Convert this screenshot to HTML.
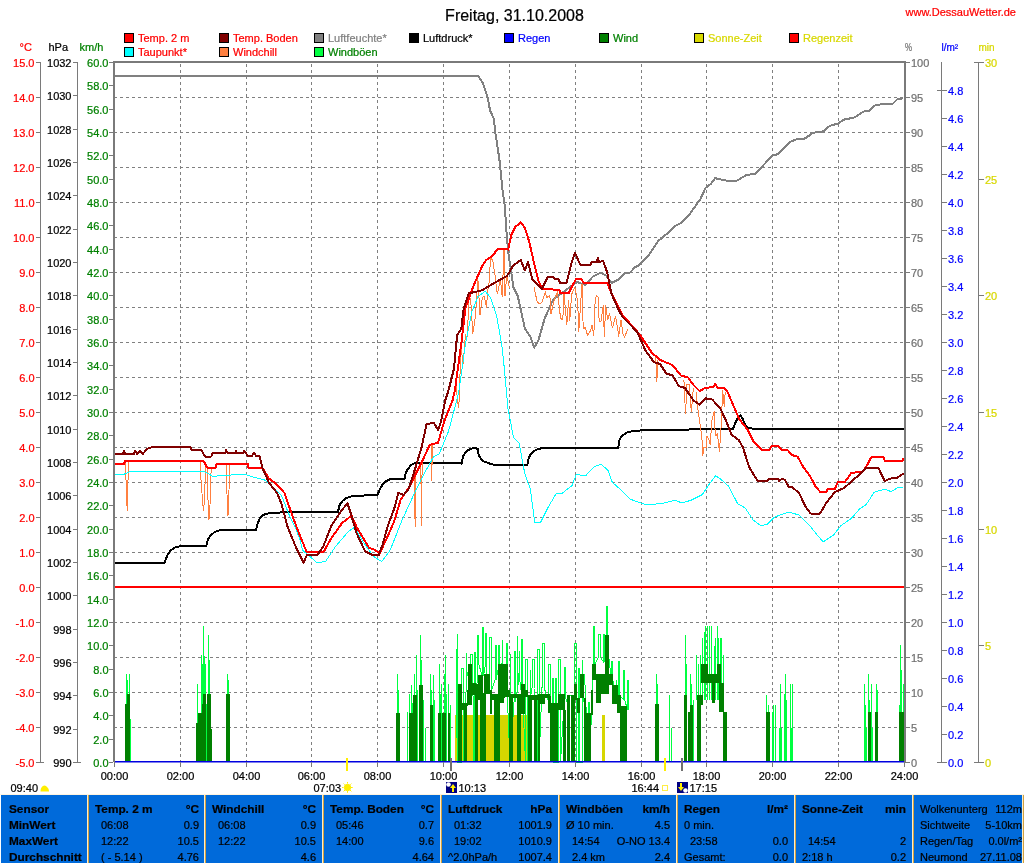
<!DOCTYPE html>
<html lang="de"><head><meta charset="utf-8"><title>Freitag, 31.10.2008 - DessauWetter</title>
<style>html,body{margin:0;padding:0;background:#fff}body{width:1024px;height:863px;overflow:hidden}svg text{white-space:pre}</style></head>
<body>
<svg width="1024" height="863" viewBox="0 0 1024 863" style="display:block;font-family:'Liberation Sans',Arial,sans-serif;font-size:11px">
<rect width="1024" height="863" fill="#fff"/>
<g stroke="#808080" stroke-width="1" stroke-dasharray="3 3" shape-rendering="crispEdges" fill="none">
<line x1="114" y1="97.5" x2="903" y2="97.5"/>
<line x1="114" y1="132.5" x2="903" y2="132.5"/>
<line x1="114" y1="167.5" x2="903" y2="167.5"/>
<line x1="114" y1="202.5" x2="903" y2="202.5"/>
<line x1="114" y1="237.5" x2="903" y2="237.5"/>
<line x1="114" y1="272.5" x2="903" y2="272.5"/>
<line x1="114" y1="307.5" x2="903" y2="307.5"/>
<line x1="114" y1="342.5" x2="903" y2="342.5"/>
<line x1="114" y1="377.5" x2="903" y2="377.5"/>
<line x1="114" y1="412.5" x2="903" y2="412.5"/>
<line x1="114" y1="447.5" x2="903" y2="447.5"/>
<line x1="114" y1="482.5" x2="903" y2="482.5"/>
<line x1="114" y1="517.5" x2="903" y2="517.5"/>
<line x1="114" y1="552.5" x2="903" y2="552.5"/>
<line x1="114" y1="587.5" x2="903" y2="587.5"/>
<line x1="114" y1="622.5" x2="903" y2="622.5"/>
<line x1="114" y1="657.5" x2="903" y2="657.5"/>
<line x1="114" y1="692.5" x2="903" y2="692.5"/>
<line x1="114" y1="727.5" x2="903" y2="727.5"/>
<line x1="180.5" y1="64" x2="180.5" y2="762"/>
<line x1="246.5" y1="64" x2="246.5" y2="762"/>
<line x1="311.5" y1="64" x2="311.5" y2="762"/>
<line x1="377.5" y1="64" x2="377.5" y2="762"/>
<line x1="443.5" y1="64" x2="443.5" y2="762"/>
<line x1="509.5" y1="64" x2="509.5" y2="762"/>
<line x1="575.5" y1="64" x2="575.5" y2="762"/>
<line x1="641.5" y1="64" x2="641.5" y2="762"/>
<line x1="706.5" y1="64" x2="706.5" y2="762"/>
<line x1="772.5" y1="64" x2="772.5" y2="762"/>
<line x1="838.5" y1="64" x2="838.5" y2="762"/>
</g>
<g fill="#d6d600" shape-rendering="crispEdges">
<rect x="455" y="715" width="73" height="47"/>
<rect x="602" y="715" width="3" height="47"/>
</g>
<g stroke="#00ff40" stroke-width="1" shape-rendering="crispEdges">
<line x1="126.5" y1="674" x2="126.5" y2="762"/>
<line x1="127.5" y1="680" x2="127.5" y2="762"/>
<line x1="129.5" y1="674" x2="129.5" y2="762"/>
<line x1="130.5" y1="719" x2="130.5" y2="762"/>
<line x1="197.5" y1="684" x2="197.5" y2="762"/>
<line x1="201.5" y1="655" x2="201.5" y2="762"/>
<line x1="202.5" y1="664" x2="202.5" y2="762"/>
<line x1="203.5" y1="626" x2="203.5" y2="762"/>
<line x1="204.5" y1="656" x2="204.5" y2="762"/>
<line x1="205.5" y1="664" x2="205.5" y2="762"/>
<line x1="208.5" y1="635" x2="208.5" y2="762"/>
<line x1="209.5" y1="660" x2="209.5" y2="762"/>
<line x1="206.5" y1="704" x2="206.5" y2="762"/>
<line x1="227.5" y1="674" x2="227.5" y2="762"/>
<line x1="228.5" y1="680" x2="228.5" y2="762"/>
<line x1="397.5" y1="674" x2="397.5" y2="762"/>
<line x1="398.5" y1="690" x2="398.5" y2="762"/>
<line x1="407.5" y1="712" x2="407.5" y2="762"/>
<line x1="409.5" y1="694" x2="409.5" y2="762"/>
<line x1="411.5" y1="685" x2="411.5" y2="762"/>
<line x1="412.5" y1="703" x2="412.5" y2="762"/>
<line x1="414.5" y1="674" x2="414.5" y2="762"/>
<line x1="416.5" y1="655" x2="416.5" y2="762"/>
<line x1="417.5" y1="690" x2="417.5" y2="762"/>
<line x1="420.5" y1="635" x2="420.5" y2="762"/>
<line x1="421.5" y1="660" x2="421.5" y2="762"/>
<line x1="423.5" y1="700" x2="423.5" y2="762"/>
<line x1="425.5" y1="728" x2="425.5" y2="762"/>
<line x1="430.5" y1="674" x2="430.5" y2="762"/>
<line x1="431.5" y1="690" x2="431.5" y2="762"/>
<line x1="433.5" y1="675" x2="433.5" y2="762"/>
<line x1="434.5" y1="700" x2="434.5" y2="762"/>
<line x1="439.5" y1="664" x2="439.5" y2="762"/>
<line x1="440.5" y1="694" x2="440.5" y2="762"/>
<line x1="441.5" y1="684" x2="441.5" y2="762"/>
<line x1="444.5" y1="674" x2="444.5" y2="762"/>
<line x1="445.5" y1="655" x2="445.5" y2="762"/>
<line x1="446.5" y1="694" x2="446.5" y2="762"/>
<line x1="448.5" y1="684" x2="448.5" y2="762"/>
<line x1="450.5" y1="705" x2="450.5" y2="762"/>
<line x1="656.5" y1="674" x2="656.5" y2="762"/>
<line x1="657.5" y1="684" x2="657.5" y2="762"/>
<line x1="669.5" y1="695" x2="669.5" y2="762"/>
<line x1="671.5" y1="728" x2="671.5" y2="762"/>
<line x1="685.5" y1="635" x2="685.5" y2="762"/>
<line x1="686.5" y1="664" x2="686.5" y2="762"/>
<line x1="690.5" y1="674" x2="690.5" y2="762"/>
<line x1="691.5" y1="684" x2="691.5" y2="762"/>
<line x1="693.5" y1="700" x2="693.5" y2="762"/>
<line x1="766.5" y1="695" x2="766.5" y2="762"/>
<line x1="768.5" y1="705" x2="768.5" y2="762"/>
<line x1="772.5" y1="712" x2="772.5" y2="762"/>
<line x1="773.5" y1="705" x2="773.5" y2="762"/>
<line x1="775.5" y1="705" x2="775.5" y2="762"/>
<line x1="779.5" y1="728" x2="779.5" y2="762"/>
<line x1="780.5" y1="684" x2="780.5" y2="762"/>
<line x1="781.5" y1="728" x2="781.5" y2="762"/>
<line x1="784.5" y1="694" x2="784.5" y2="762"/>
<line x1="785.5" y1="674" x2="785.5" y2="762"/>
<line x1="786.5" y1="700" x2="786.5" y2="762"/>
<line x1="790.5" y1="684" x2="790.5" y2="762"/>
<line x1="791.5" y1="728" x2="791.5" y2="762"/>
<line x1="792.5" y1="684" x2="792.5" y2="762"/>
<line x1="864.5" y1="684" x2="864.5" y2="762"/>
<line x1="865.5" y1="705" x2="865.5" y2="762"/>
<line x1="866.5" y1="728" x2="866.5" y2="762"/>
<line x1="868.5" y1="674" x2="868.5" y2="762"/>
<line x1="869.5" y1="700" x2="869.5" y2="762"/>
<line x1="871.5" y1="684" x2="871.5" y2="762"/>
<line x1="872.5" y1="728" x2="872.5" y2="762"/>
<line x1="876.5" y1="684" x2="876.5" y2="762"/>
<line x1="877.5" y1="690" x2="877.5" y2="762"/>
<line x1="899.5" y1="705" x2="899.5" y2="762"/>
<line x1="900.5" y1="645" x2="900.5" y2="762"/>
<line x1="901.5" y1="670" x2="901.5" y2="762"/>
<line x1="903.5" y1="684" x2="903.5" y2="762"/>
<line x1="696.5" y1="655" x2="696.5" y2="700"/>
<line x1="698.5" y1="664" x2="698.5" y2="700"/>
<line x1="700.5" y1="655" x2="700.5" y2="700"/>
<line x1="702.5" y1="638" x2="702.5" y2="700"/>
<line x1="704.5" y1="632" x2="704.5" y2="700"/>
<line x1="705.5" y1="626" x2="705.5" y2="700"/>
<line x1="707.5" y1="626" x2="707.5" y2="700"/>
<line x1="709.5" y1="626" x2="709.5" y2="700"/>
<line x1="711.5" y1="626" x2="711.5" y2="700"/>
<line x1="714.5" y1="646" x2="714.5" y2="700"/>
<line x1="715.5" y1="638" x2="715.5" y2="700"/>
<line x1="717.5" y1="626" x2="717.5" y2="700"/>
<line x1="718.5" y1="638" x2="718.5" y2="700"/>
<line x1="720.5" y1="638" x2="720.5" y2="700"/>
<line x1="721.5" y1="638" x2="721.5" y2="700"/>
<line x1="723.5" y1="655" x2="723.5" y2="700"/>
</g>
<polyline points="456.0,689.0 456.0,649.0 456.0,649.0 456.0,689.0 457.5,762.0 457.5,634.0 457.5,634.0 457.5,762.0 461.5,762.0 461.5,668.7 463.5,668.7 463.5,762.0 466.5,678.1 466.5,653.1 466.5,653.1 466.5,678.1 470.5,662.0 470.5,654.0 472.5,654.0 472.5,662.0 474.0,762.0 474.0,652.6 475.0,652.6 475.0,762.0 477.5,663.8 477.5,635.8 478.5,635.8 478.5,663.8 482.5,676.4 482.5,627.4 483.5,627.4 483.5,676.4 485.0,666.7 485.0,633.7 486.0,633.7 486.0,666.7 489.0,692.3 489.0,637.3 491.0,637.3 491.0,692.3 495.0,679.7 495.0,645.7 496.0,645.7 496.0,679.7 498.0,670.4 498.0,645.4 499.0,645.4 499.0,670.4 502.0,662.7 502.0,639.7 502.0,639.7 502.0,662.7 506.0,688.4 506.0,643.4 507.0,643.4 507.0,688.4 510.0,762.0 510.0,653.7 510.0,653.7 510.0,762.0 514.0,701.6 514.0,651.6 515.0,651.6 515.0,701.6 517.5,691.2 517.5,636.2 517.5,636.2 517.5,691.2 519.0,673.5 519.0,650.5 519.0,650.5 519.0,673.5 521.5,694.3 521.5,639.3 522.5,639.3 522.5,694.3 525.5,762.0 525.5,659.2 527.5,659.2 527.5,762.0 530.0,699.5 530.0,669.5 530.0,669.5 530.0,699.5 532.0,688.4 532.0,659.4 534.0,659.4 534.0,688.4 537.0,762.0 537.0,649.1 539.0,649.1 539.0,762.0 542.0,687.5 542.0,643.5 544.0,643.5 544.0,687.5 548.0,699.7 548.0,664.7 550.0,664.7 550.0,699.7 552.0,762.0 552.0,678.0 553.0,678.0 553.0,762.0 555.0,762.0 555.0,678.0 556.0,678.0 556.0,762.0 558.5,762.0 558.5,659.0 560.5,659.0 560.5,762.0 564.5,697.0 564.5,667.0 565.5,667.0 565.5,697.0 569.5,710.9 569.5,695.9 571.5,695.9 571.5,710.9 574.5,762.0 574.5,643.0 576.5,643.0 576.5,762.0 578.0,762.0 578.0,668.7 579.0,668.7 579.0,762.0 582.0,762.0 582.0,660.2 582.0,660.2 582.0,762.0 583.5,673.6 583.5,675.6 584.5,675.6 584.5,673.6 588.5,762.0 588.5,702.0 589.5,702.0 589.5,762.0 593.5,665.2 593.5,626.0 594.5,626.0 594.5,665.2 598.5,657.3 598.5,634.3 600.5,634.3 600.5,657.3 603.5,662.0 603.5,634.0 604.5,634.0 604.5,662.0 606.0,641.5 606.0,606.0 607.0,606.0 607.0,641.5 611.0,676.4 611.0,661.4 612.0,661.4 612.0,676.4 616.0,694.6 616.0,679.6 616.0,679.6 616.0,694.6 618.5,696.3 618.5,661.3 619.5,661.3 619.5,696.3 623.5,699.0 623.5,670.0 624.5,670.0 624.5,699.0 627.5,710.0 627.5,680.0 628.5,680.0 628.5,710.0" fill="none" stroke="#00ff40" stroke-width="1" shape-rendering="crispEdges"/>
<g fill="#008000" shape-rendering="crispEdges">
<rect x="125.0" y="704.0" width="1.5" height="58.0"/>
<rect x="126.5" y="694.0" width="3.0" height="68.0"/>
<rect x="196.0" y="723.0" width="2.0" height="39.0"/>
<rect x="198.0" y="713.0" width="3.5" height="49.0"/>
<rect x="201.5" y="704.0" width="1.5" height="58.0"/>
<rect x="203.0" y="694.0" width="2.5" height="68.0"/>
<rect x="207.0" y="694.0" width="3.7" height="68.0"/>
<rect x="210.7" y="729.0" width="1.3" height="33.0"/>
<rect x="226.0" y="694.0" width="4.0" height="68.0"/>
<rect x="396.0" y="713.0" width="3.6" height="49.0"/>
<rect x="408.6" y="713.0" width="3.9" height="49.0"/>
<rect x="413.0" y="694.5" width="4.4" height="67.5"/>
<rect x="419.0" y="685.0" width="3.6" height="77.0"/>
<rect x="429.6" y="704.5" width="3.6" height="57.5"/>
<rect x="437.5" y="713.0" width="3.5" height="49.0"/>
<rect x="442.4" y="713.0" width="4.0" height="49.0"/>
<rect x="447.6" y="713.0" width="2.8" height="49.0"/>
<rect x="655.4" y="703.5" width="3.2" height="58.5"/>
<rect x="683.5" y="694.6" width="3.5" height="67.4"/>
<rect x="687.9" y="712.0" width="2.1" height="50.0"/>
<rect x="690.0" y="705.0" width="2.9" height="57.0"/>
<rect x="696.7" y="712.0" width="1.8" height="50.0"/>
<rect x="698.5" y="694.6" width="2.3" height="67.4"/>
<rect x="723.0" y="712.0" width="4.4" height="50.0"/>
<rect x="765.5" y="712.0" width="4.1" height="50.0"/>
<rect x="867.8" y="712.0" width="3.2" height="50.0"/>
<rect x="875.4" y="712.0" width="2.9" height="50.0"/>
<rect x="899.4" y="712.0" width="4.1" height="50.0"/>
<rect x="457.8" y="684.0" width="4.0" height="78.0"/>
<rect x="461.8" y="703.0" width="1.8" height="7.0"/>
<rect x="463.6" y="703.0" width="2.9" height="59.0"/>
<rect x="466.5" y="690.0" width="1.5" height="16.0"/>
<rect x="467.9" y="664.0" width="4.3" height="41.0"/>
<rect x="472.2" y="683.0" width="3.5" height="12.0"/>
<rect x="474.8" y="684.0" width="2.7" height="78.0"/>
<rect x="477.5" y="690.0" width="1.5" height="10.0"/>
<rect x="478.3" y="675.0" width="3.5" height="25.0"/>
<rect x="480.0" y="675.0" width="2.7" height="87.0"/>
<rect x="482.7" y="693.0" width="3.4" height="69.0"/>
<rect x="484.4" y="674.0" width="5.2" height="20.0"/>
<rect x="489.6" y="690.0" width="1.9" height="24.0"/>
<rect x="491.5" y="694.0" width="2.1" height="6.0"/>
<rect x="493.6" y="694.0" width="5.9" height="68.0"/>
<rect x="497.5" y="664.0" width="3.5" height="36.0"/>
<rect x="500.0" y="664.0" width="3.5" height="39.0"/>
<rect x="503.5" y="690.0" width="1.5" height="8.0"/>
<rect x="504.4" y="664.0" width="3.8" height="33.0"/>
<rect x="508.2" y="690.0" width="1.3" height="7.0"/>
<rect x="509.2" y="694.0" width="3.9" height="68.0"/>
<rect x="513.1" y="694.0" width="4.3" height="4.0"/>
<rect x="517.4" y="694.0" width="3.5" height="68.0"/>
<rect x="520.9" y="684.0" width="4.3" height="30.0"/>
<rect x="525.2" y="690.0" width="2.8" height="7.0"/>
<rect x="527.8" y="695.0" width="4.4" height="67.0"/>
<rect x="532.2" y="695.0" width="1.8" height="5.0"/>
<rect x="533.9" y="695.0" width="2.6" height="67.0"/>
<rect x="536.5" y="695.0" width="1.8" height="5.0"/>
<rect x="538.3" y="694.0" width="1.7" height="68.0"/>
<rect x="540.0" y="693.5" width="5.0" height="10.5"/>
<rect x="545.0" y="693.5" width="4.8" height="4.5"/>
<rect x="548.0" y="696.0" width="2.8" height="17.0"/>
<rect x="549.8" y="703.0" width="7.9" height="59.0"/>
<rect x="557.7" y="693.5" width="6.9" height="16.5"/>
<rect x="563.2" y="710.0" width="2.8" height="52.0"/>
<rect x="566.6" y="694.5" width="2.9" height="67.5"/>
<rect x="570.5" y="694.5" width="4.9" height="67.5"/>
<rect x="573.5" y="684.0" width="3.0" height="16.0"/>
<rect x="576.5" y="698.0" width="3.5" height="15.0"/>
<rect x="580.4" y="674.0" width="3.9" height="24.0"/>
<rect x="584.3" y="713.0" width="6.5" height="49.0"/>
<rect x="583.5" y="698.0" width="2.0" height="17.0"/>
<rect x="590.8" y="690.0" width="2.2" height="25.0"/>
<rect x="592.2" y="664.0" width="3.9" height="16.0"/>
<rect x="596.1" y="674.0" width="4.9" height="29.0"/>
<rect x="601.0" y="674.0" width="4.0" height="19.5"/>
<rect x="605.0" y="635.4" width="3.9" height="58.1"/>
<rect x="608.9" y="674.0" width="3.9" height="11.0"/>
<rect x="612.0" y="685.0" width="5.8" height="19.0"/>
<rect x="616.8" y="694.5" width="3.9" height="18.5"/>
<rect x="619.7" y="706.0" width="6.9" height="56.0"/>
<rect x="624.0" y="713.0" width="3.0" height="49.0"/>
<rect x="696.7" y="694.6" width="4.1" height="67.4"/>
<rect x="698.8" y="694.6" width="3.7" height="10.4"/>
<rect x="700.8" y="664.0" width="6.7" height="19.0"/>
<rect x="707.5" y="674.0" width="4.5" height="9.0"/>
<rect x="712.0" y="674.0" width="3.4" height="29.4"/>
<rect x="715.4" y="674.0" width="2.9" height="9.0"/>
<rect x="717.2" y="664.0" width="4.1" height="19.0"/>
<rect x="719.2" y="683.0" width="4.4" height="29.0"/>
</g>
<polyline points="114.0,75.9 478.2,75.9 482.8,83.2 488.0,98.8 490.0,110.3 493.8,118.6 495.3,132.2 499.4,159.3 502.6,190.6 504.7,205.2 506.7,234.4 508.2,251.7 511.3,272.6 513.4,287.2 517.6,295.5 521.8,314.3 524.9,328.9 530.1,336.2 534.3,347.6 538.4,340.3 544.7,318.4 553.0,299.7 561.4,293.4 569.7,287.2 577.0,282.0 585.4,285.1 592.7,276.7 601.0,272.6 606.2,275.7 611.4,283.0 617.7,279.9 625.0,272.6 630.3,272.5 634.6,267.5 639.0,265.2 649.3,254.3 658.1,241.1 666.9,233.8 674.2,226.5 681.5,222.7 690.3,213.3 700.6,198.7 705.6,187.8 710.8,184.0 715.2,178.2 725.5,180.5 737.2,180.5 746.0,175.2 754.8,173.8 763.6,165.0 772.4,155.6 778.2,154.1 789.9,142.1 795.8,139.5 804.6,138.6 813.4,132.7 823.6,131.3 829.5,126.0 838.3,123.4 844.1,119.6 854.4,117.5 863.2,111.6 869.0,110.8 874.9,105.5 882.2,104.0 892.5,104.0 896.9,99.6 902.7,98.2" fill="none" stroke="#808080" stroke-width="2" stroke-linejoin="round" shape-rendering="crispEdges"/>
<polyline points="114.0,563.0 164.5,563.0 167.0,556.0 170.0,551.0 174.9,547.6 179.0,546.4 206.2,546.4 207.0,542.0 208.3,538.9 211.0,535.0 214.5,532.2 220.8,529.7 256.2,529.7 257.5,524.0 259.4,519.0 262.0,516.0 264.6,514.3 270.8,512.8 295.9,512.0 338.0,512.0 339.0,507.0 340.0,504.3 343.0,500.5 346.3,498.0 352.6,496.0 377.6,494.9 379.0,491.0 380.7,487.6 383.0,484.0 385.9,481.3 390.1,479.2 404.7,478.6 405.5,474.0 406.8,470.9 409.0,467.5 411.0,465.1 415.1,463.0 456.8,462.6 462.0,463.6 462.5,459.0 463.1,456.3 465.5,452.5 468.3,450.1 472.0,448.5 475.6,448.0 477.7,449.0 478.2,452.0 478.7,455.3 481.0,459.0 484.0,461.5 489.8,463.6 495.0,465.0 527.4,465.0 527.8,462.0 528.1,459.8 530.0,455.5 532.6,452.0 537.0,449.5 541.6,448.2 618.4,447.7 618.7,444.0 619.4,440.2 621.5,436.5 624.6,433.9 628.0,432.0 632.9,431.2 647.5,429.7 733.0,429.3 734.0,426.0 735.1,423.5 737.5,418.5 740.3,415.5 742.4,418.3 745.6,425.6 748.0,427.5 751.8,428.5 904.0,428.5" fill="none" stroke="#000" stroke-width="2" stroke-linejoin="round" shape-rendering="crispEdges"/>
<polyline points="125.5,462.0 126.0,480.0 127.2,511.0 127.8,485.0 128.8,462.0" fill="none" stroke="#ff8040" stroke-width="1" stroke-linejoin="round" shape-rendering="crispEdges"/>
<polyline points="200.4,462.0 201.0,480.0 202.5,500.0 203.5,511.0 204.5,500.0 205.6,466.0 207.6,468.0 208.0,500.0 209.0,519.7 210.0,505.0 210.5,480.0 211.4,468.0" fill="none" stroke="#ff8040" stroke-width="1" stroke-linejoin="round" shape-rendering="crispEdges"/>
<polyline points="226.4,465.0 226.8,490.0 228.0,515.5 229.0,490.0 229.8,465.0" fill="none" stroke="#ff8040" stroke-width="1" stroke-linejoin="round" shape-rendering="crispEdges"/>
<polyline points="414.5,472.0 415.1,527.2 416.0,470.0" fill="none" stroke="#ff8040" stroke-width="1" stroke-linejoin="round" shape-rendering="crispEdges"/>
<polyline points="420.8,462.0 421.4,525.1 422.2,460.0" fill="none" stroke="#ff8040" stroke-width="1" stroke-linejoin="round" shape-rendering="crispEdges"/>
<polyline points="431.3,444.0 431.8,480.3 432.3,444.0" fill="none" stroke="#ff8040" stroke-width="1" stroke-linejoin="round" shape-rendering="crispEdges"/>
<polyline points="655.4,356.0 655.9,360.0 656.9,381.8 657.5,360.0" fill="none" stroke="#ff8040" stroke-width="1" stroke-linejoin="round" shape-rendering="crispEdges"/>
<polyline points="683.5,380.0 684.0,382.0 685.5,414.0 687.0,384.0 689.0,384.0 691.3,412.0 693.4,388.0" fill="none" stroke="#ff8040" stroke-width="1" stroke-linejoin="round" shape-rendering="crispEdges"/>
<polyline points="696.0,392.0 697.6,406.8 699.5,420.0 701.8,436.0 702.8,455.8 704.0,447.0 706.0,448.0 707.0,436.0 709.0,440.0 710.2,444.5 712.0,420.0 714.3,411.0 715.3,436.0 717.4,434.0 719.5,451.6 721.5,420.0 722.6,390.0 724.3,407.0 725.2,392.0" fill="none" stroke="#ff8040" stroke-width="1" stroke-linejoin="round" shape-rendering="crispEdges"/>
<polyline points="456.0,385.4 457.8,403.3 458.8,407.3 461.0,347.1 463.2,363.7 465.4,334.8 466.8,340.0 467.8,325.3 468.8,299.1 470.6,298.2 472.8,333.8 475.0,319.4 476.4,303.7 477.8,277.6 480.0,315.3 482.2,298.2 484.0,296.0 485.4,301.1 486.4,307.7 487.8,289.5 488.8,285.9 490.6,257.6 492.8,260.4 495.0,275.1 497.2,294.1 498.2,290.4 500.4,279.2 502.2,296.6 504.0,249.2 505.0,295.9 506.8,275.2 507.8,280.3 509.6,288.3" fill="none" stroke="#ff8040" stroke-width="1" stroke-linejoin="round" shape-rendering="crispEdges"/>
<polyline points="534.0,286.9 537.2,302.1 540.0,304.1 542.2,302.0 545.4,291.8 546.6,298.0 549.8,295.1 551.0,313.8 554.2,300.3 557.4,291.8 560.6,318.3 562.8,319.9 564.0,293.8 566.8,324.8 568.6,300.1 569.8,320.4 571.6,294.3 574.8,287.5 577.6,300.5 578.8,331.4 582.0,283.7 583.2,328.3 585.4,327.8 587.6,335.5 590.8,330.2 592.0,325.5 593.8,335.6 595.0,303.7 596.2,295.6 598.0,296.4 599.2,321.9 601.0,321.2 603.2,305.7 604.4,336.4 605.6,305.8 607.8,319.6 609.6,313.4 612.4,328.0 615.6,316.4 618.8,336.1 621.0,319.7 622.8,333.3 624.6,337.1 627.8,329.1" fill="none" stroke="#ff8040" stroke-width="1" stroke-linejoin="round" shape-rendering="crispEdges"/>
<polyline points="114.0,474.6 123.0,474.6 131.0,471.3 204.0,471.3 213.5,476.7 220.8,475.3 245.8,474.6 254.2,477.4 264.6,480.0 281.3,495.0 290.0,517.0 296.0,529.0 300.0,540.0 302.5,550.2 317.1,562.7 325.5,561.6 335.9,546.0 348.4,531.4 354.6,527.2 363.0,541.8 373.4,556.4 381.8,561.6 390.1,550.2 402.6,518.9 415.1,491.8 425.6,470.9 433.9,456.3 439.1,454.2 448.5,431.3 456.8,400.0 459.2,389.4 465.5,343.5 471.7,312.2 478.0,296.5 485.3,291.3 490.5,297.6 496.7,316.4 501.9,345.6 504.5,370.0 507.9,408.2 513.5,437.4 519.1,443.0 524.7,473.3 530.3,489.0 534.8,522.7 540.4,522.7 548.3,507.0 556.2,493.5 561.8,493.5 571.9,485.7 576.4,474.4 585.4,476.0 594.3,466.6 601.1,464.3 607.8,470.0 612.3,482.3 621.3,490.2 630.3,499.2 639.3,502.5 646.0,504.8 661.7,503.6 675.2,500.3 681.9,503.0 690.9,500.3 702.2,494.7 708.9,484.6 715.6,475.6 720.0,478.6 728.3,485.9 737.7,503.7 745.0,507.8 753.4,520.3 760.7,525.6 766.9,524.5 774.2,517.2 788.8,512.0 799.2,515.1 809.7,525.6 818.0,536.0 823.2,541.8 833.7,534.9 841.0,525.6 851.4,518.3 859.7,508.9 866.0,504.7 874.3,492.2 884.8,489.1 891.0,491.6 897.3,488.0 903.5,487.0" fill="none" stroke="#00ffff" stroke-width="1" stroke-linejoin="round" shape-rendering="crispEdges"/>
<polyline points="114.0,464.2 123.8,464.2 125.0,461.1 203.7,461.1 207.0,467.5 215.6,467.5 216.5,464.2 247.9,464.2 248.5,468.0 262.5,468.0 268.8,478.4 277.0,484.6 284.4,493.0 291.7,513.8 297.9,530.5 303.8,545.0 306.7,552.2 323.4,552.2 331.7,537.6 342.1,523.0 351.5,515.7 356.7,527.2 369.2,548.1 373.4,549.1 379.7,553.3 388.0,535.6 394.3,521.0 400.5,500.1 408.9,487.6 417.2,470.9 423.5,458.4 429.7,444.8 438.1,442.8 444.3,420.9 452.7,400.0 455.0,389.4 461.3,343.5 465.5,308.0 473.8,285.1 482.1,266.3 486.3,260.0 492.6,255.9 497.8,248.6 505.1,248.6 508.2,249.6 511.3,235.0 515.5,226.7 520.7,222.5 524.9,227.7 529.1,241.3 534.3,264.2 538.4,280.9 542.6,289.2 559.3,289.7 560.3,293.0 568.7,293.0 573.9,283.0 576.0,278.8 581.2,278.8 583.3,282.6 607.3,282.6 611.4,293.4 617.7,305.9 622.5,315.0 639.2,333.8 651.7,352.6 660.0,359.9 672.6,365.1 680.9,375.5 688.2,377.6 693.4,384.9 699.7,391.1 704.9,388.0 713.2,387.0 715.3,383.8 717.4,387.6 723.7,387.6 727.8,392.2 733.0,404.7 739.3,419.3 747.6,429.7 753.9,442.2 761.2,449.5 769.5,449.5 771.6,446.4 778.9,446.4 781.0,449.5 788.3,450.6 791.4,454.8 797.7,456.8 803.4,467.2 809.7,475.5 815.9,487.0 820.1,491.8 826.4,491.8 827.4,489.1 834.7,489.1 837.8,482.2 845.1,481.8 851.4,472.8 861.8,472.0 866.0,467.2 871.2,457.2 883.7,457.2 884.8,460.9 902.5,460.9 903.5,457.8" fill="none" stroke="#ff0000" stroke-width="2" stroke-linejoin="round" shape-rendering="crispEdges"/>
<polyline points="114.0,453.8 123.0,453.8 124.0,451.0 125.0,453.8 134.0,453.8 135.0,451.0 137.0,453.8 140.0,451.0 143.0,453.8 146.0,450.0 148.0,448.5 152.0,447.1 190.5,447.1 191.0,449.6 201.0,449.6 205.0,456.5 211.4,456.5 212.0,453.4 225.0,453.4 226.0,450.0 228.0,453.4 235.0,453.4 236.0,451.0 237.0,453.4 243.0,453.4 244.0,451.0 246.0,453.4 248.0,455.9 252.0,455.9 254.0,453.0 256.0,455.9 259.4,455.9 262.5,468.0 268.8,482.6 277.0,493.0 281.3,503.4 287.5,526.4 295.9,547.2 303.6,562.7 306.7,555.4 317.1,555.4 323.4,546.0 331.7,525.1 340.0,512.6 347.4,503.2 350.5,512.6 356.7,533.5 365.1,551.2 373.4,555.4 378.6,555.4 382.8,543.9 388.0,525.1 394.3,508.4 398.4,492.8 403.7,494.9 408.9,488.6 415.1,468.8 421.4,448.0 426.6,424.0 433.9,422.9 438.1,430.2 441.2,420.9 445.4,400.0 448.8,389.4 454.0,368.5 457.1,335.1 461.3,328.9 463.4,310.1 468.6,293.4 482.1,290.3 492.6,284.0 507.2,275.7 513.4,265.3 520.7,260.0 524.9,270.5 528.0,262.1 532.2,278.8 536.4,283.0 541.6,289.2 547.8,276.7 553.0,276.7 555.1,279.2 558.3,279.2 560.3,283.0 566.6,283.0 571.8,262.1 575.0,252.8 580.2,264.6 590.6,264.6 591.6,262.0 596.8,262.0 598.0,258.0 599.0,262.0 603.1,261.0 607.3,272.6 611.4,293.4 617.7,308.0 622.5,317.0 637.1,331.7 645.5,350.5 653.8,362.0 660.0,364.0 666.3,373.4 672.6,375.5 678.8,386.0 685.0,388.0 693.4,400.5 699.7,404.7 705.9,398.4 712.2,399.5 720.5,408.9 726.3,421.3 731.5,434.8 738.8,440.0 742.9,447.4 749.2,467.2 757.5,480.7 766.9,481.1 769.0,479.0 778.4,479.0 779.4,481.1 781.5,479.0 784.7,479.7 788.8,487.0 792.0,487.0 799.2,493.2 805.5,506.8 810.7,513.5 820.1,513.5 826.4,502.6 834.7,492.2 844.1,488.0 853.5,479.7 860.8,473.4 866.0,468.2 878.5,468.2 884.8,481.1 890.0,478.6 897.3,477.6 903.5,473.4" fill="none" stroke="#800000" stroke-width="2" stroke-linejoin="round" shape-rendering="crispEdges"/>
<rect x="114" y="586" width="790" height="2" fill="#ff0000" shape-rendering="crispEdges"/>
<rect x="114" y="761" width="790" height="1.5" fill="#0000e0"/>
<g fill="#7a7a7a" shape-rendering="crispEdges">
<rect x="113" y="61" width="792" height="2"/>
<rect x="113" y="61" width="2" height="701"/>
<rect x="904" y="61" width="2" height="702"/>
<rect x="40" y="62" width="1" height="701"/>
<rect x="77" y="62" width="1" height="701"/>
<rect x="941" y="62" width="1" height="701"/>
<rect x="978" y="62" width="1" height="701"/>
<rect x="36" y="62" width="4" height="1"/>
<rect x="905" y="62" width="5" height="1"/>
<rect x="36" y="97" width="4" height="1"/>
<rect x="905" y="97" width="5" height="1"/>
<rect x="36" y="132" width="4" height="1"/>
<rect x="905" y="132" width="5" height="1"/>
<rect x="36" y="167" width="4" height="1"/>
<rect x="905" y="167" width="5" height="1"/>
<rect x="36" y="202" width="4" height="1"/>
<rect x="905" y="202" width="5" height="1"/>
<rect x="36" y="237" width="4" height="1"/>
<rect x="905" y="237" width="5" height="1"/>
<rect x="36" y="272" width="4" height="1"/>
<rect x="905" y="272" width="5" height="1"/>
<rect x="36" y="307" width="4" height="1"/>
<rect x="905" y="307" width="5" height="1"/>
<rect x="36" y="342" width="4" height="1"/>
<rect x="905" y="342" width="5" height="1"/>
<rect x="36" y="377" width="4" height="1"/>
<rect x="905" y="377" width="5" height="1"/>
<rect x="36" y="412" width="4" height="1"/>
<rect x="905" y="412" width="5" height="1"/>
<rect x="36" y="447" width="4" height="1"/>
<rect x="905" y="447" width="5" height="1"/>
<rect x="36" y="482" width="4" height="1"/>
<rect x="905" y="482" width="5" height="1"/>
<rect x="36" y="517" width="4" height="1"/>
<rect x="905" y="517" width="5" height="1"/>
<rect x="36" y="552" width="4" height="1"/>
<rect x="905" y="552" width="5" height="1"/>
<rect x="36" y="587" width="4" height="1"/>
<rect x="905" y="587" width="5" height="1"/>
<rect x="36" y="622" width="4" height="1"/>
<rect x="905" y="622" width="5" height="1"/>
<rect x="36" y="657" width="4" height="1"/>
<rect x="905" y="657" width="5" height="1"/>
<rect x="36" y="692" width="4" height="1"/>
<rect x="905" y="692" width="5" height="1"/>
<rect x="36" y="727" width="4" height="1"/>
<rect x="905" y="727" width="5" height="1"/>
<rect x="36" y="762" width="4" height="1"/>
<rect x="905" y="762" width="5" height="1"/>
<rect x="40" y="762" width="4" height="1"/>
<rect x="73" y="62" width="4" height="1"/>
<rect x="73" y="95" width="4" height="1"/>
<rect x="73" y="129" width="4" height="1"/>
<rect x="73" y="162" width="4" height="1"/>
<rect x="73" y="195" width="4" height="1"/>
<rect x="73" y="229" width="4" height="1"/>
<rect x="73" y="262" width="4" height="1"/>
<rect x="73" y="295" width="4" height="1"/>
<rect x="73" y="329" width="4" height="1"/>
<rect x="73" y="362" width="4" height="1"/>
<rect x="73" y="395" width="4" height="1"/>
<rect x="73" y="429" width="4" height="1"/>
<rect x="73" y="462" width="4" height="1"/>
<rect x="73" y="495" width="4" height="1"/>
<rect x="73" y="529" width="4" height="1"/>
<rect x="73" y="562" width="4" height="1"/>
<rect x="73" y="595" width="4" height="1"/>
<rect x="73" y="629" width="4" height="1"/>
<rect x="73" y="662" width="4" height="1"/>
<rect x="73" y="695" width="4" height="1"/>
<rect x="73" y="729" width="4" height="1"/>
<rect x="73" y="762" width="4" height="1"/>
<rect x="77" y="762" width="4" height="1"/>
<rect x="109" y="62" width="4" height="1"/>
<rect x="109" y="85" width="4" height="1"/>
<rect x="109" y="109" width="4" height="1"/>
<rect x="109" y="132" width="4" height="1"/>
<rect x="109" y="155" width="4" height="1"/>
<rect x="109" y="179" width="4" height="1"/>
<rect x="109" y="202" width="4" height="1"/>
<rect x="109" y="225" width="4" height="1"/>
<rect x="109" y="249" width="4" height="1"/>
<rect x="109" y="272" width="4" height="1"/>
<rect x="109" y="295" width="4" height="1"/>
<rect x="109" y="319" width="4" height="1"/>
<rect x="109" y="342" width="4" height="1"/>
<rect x="109" y="365" width="4" height="1"/>
<rect x="109" y="389" width="4" height="1"/>
<rect x="109" y="412" width="4" height="1"/>
<rect x="109" y="435" width="4" height="1"/>
<rect x="109" y="459" width="4" height="1"/>
<rect x="109" y="482" width="4" height="1"/>
<rect x="109" y="505" width="4" height="1"/>
<rect x="109" y="529" width="4" height="1"/>
<rect x="109" y="552" width="4" height="1"/>
<rect x="109" y="575" width="4" height="1"/>
<rect x="109" y="599" width="4" height="1"/>
<rect x="109" y="622" width="4" height="1"/>
<rect x="109" y="645" width="4" height="1"/>
<rect x="109" y="669" width="4" height="1"/>
<rect x="109" y="692" width="4" height="1"/>
<rect x="109" y="715" width="4" height="1"/>
<rect x="109" y="739" width="4" height="1"/>
<rect x="109" y="762" width="4" height="1"/>
<rect x="942" y="762" width="5" height="1"/>
<rect x="942" y="734" width="5" height="1"/>
<rect x="942" y="706" width="5" height="1"/>
<rect x="942" y="678" width="5" height="1"/>
<rect x="942" y="650" width="5" height="1"/>
<rect x="942" y="622" width="5" height="1"/>
<rect x="942" y="594" width="5" height="1"/>
<rect x="942" y="566" width="5" height="1"/>
<rect x="942" y="538" width="5" height="1"/>
<rect x="942" y="510" width="5" height="1"/>
<rect x="942" y="482" width="5" height="1"/>
<rect x="942" y="454" width="5" height="1"/>
<rect x="942" y="426" width="5" height="1"/>
<rect x="942" y="398" width="5" height="1"/>
<rect x="942" y="370" width="5" height="1"/>
<rect x="942" y="342" width="5" height="1"/>
<rect x="942" y="314" width="5" height="1"/>
<rect x="942" y="286" width="5" height="1"/>
<rect x="942" y="258" width="5" height="1"/>
<rect x="942" y="230" width="5" height="1"/>
<rect x="942" y="202" width="5" height="1"/>
<rect x="942" y="174" width="5" height="1"/>
<rect x="942" y="146" width="5" height="1"/>
<rect x="942" y="118" width="5" height="1"/>
<rect x="942" y="90" width="5" height="1"/>
<rect x="937" y="762" width="5" height="1"/>
<rect x="937" y="90" width="5" height="1"/>
<rect x="979" y="762" width="5" height="1"/>
<rect x="979" y="645" width="5" height="1"/>
<rect x="979" y="529" width="5" height="1"/>
<rect x="979" y="412" width="5" height="1"/>
<rect x="979" y="295" width="5" height="1"/>
<rect x="979" y="179" width="5" height="1"/>
<rect x="979" y="62" width="5" height="1"/>
<rect x="974" y="762" width="5" height="1"/>
<rect x="974" y="62" width="5" height="1"/>
<rect x="114" y="762" width="1" height="5"/>
<rect x="180" y="762" width="1" height="5"/>
<rect x="246" y="762" width="1" height="5"/>
<rect x="311" y="762" width="1" height="5"/>
<rect x="377" y="762" width="1" height="5"/>
<rect x="443" y="762" width="1" height="5"/>
<rect x="509" y="762" width="1" height="5"/>
<rect x="575" y="762" width="1" height="5"/>
<rect x="641" y="762" width="1" height="5"/>
<rect x="706" y="762" width="1" height="5"/>
<rect x="772" y="762" width="1" height="5"/>
<rect x="838" y="762" width="1" height="5"/>
<rect x="904" y="762" width="1" height="5"/>
</g>
<g shape-rendering="crispEdges">
<rect x="346" y="758" width="2" height="13" fill="#ffee00"/>
<rect x="664" y="758" width="2" height="13" fill="#ffee00"/>
<rect x="450" y="758" width="2" height="13" fill="#707070"/>
<rect x="681" y="758" width="2" height="13" fill="#707070"/>
</g>
<text x="34.5" y="66.5" fill="#ff0000" stroke="#ff0000" stroke-width="0.22" text-anchor="end" >15.0</text>
<text x="911" y="66.5" fill="#707070" stroke="#707070" stroke-width="0.22" text-anchor="start" >100</text>
<text x="34.5" y="101.5" fill="#ff0000" stroke="#ff0000" stroke-width="0.22" text-anchor="end" >14.0</text>
<text x="911" y="101.5" fill="#707070" stroke="#707070" stroke-width="0.22" text-anchor="start" >95</text>
<text x="34.5" y="136.5" fill="#ff0000" stroke="#ff0000" stroke-width="0.22" text-anchor="end" >13.0</text>
<text x="911" y="136.5" fill="#707070" stroke="#707070" stroke-width="0.22" text-anchor="start" >90</text>
<text x="34.5" y="171.5" fill="#ff0000" stroke="#ff0000" stroke-width="0.22" text-anchor="end" >12.0</text>
<text x="911" y="171.5" fill="#707070" stroke="#707070" stroke-width="0.22" text-anchor="start" >85</text>
<text x="34.5" y="206.5" fill="#ff0000" stroke="#ff0000" stroke-width="0.22" text-anchor="end" >11.0</text>
<text x="911" y="206.5" fill="#707070" stroke="#707070" stroke-width="0.22" text-anchor="start" >80</text>
<text x="34.5" y="241.5" fill="#ff0000" stroke="#ff0000" stroke-width="0.22" text-anchor="end" >10.0</text>
<text x="911" y="241.5" fill="#707070" stroke="#707070" stroke-width="0.22" text-anchor="start" >75</text>
<text x="34.5" y="276.5" fill="#ff0000" stroke="#ff0000" stroke-width="0.22" text-anchor="end" >9.0</text>
<text x="911" y="276.5" fill="#707070" stroke="#707070" stroke-width="0.22" text-anchor="start" >70</text>
<text x="34.5" y="311.5" fill="#ff0000" stroke="#ff0000" stroke-width="0.22" text-anchor="end" >8.0</text>
<text x="911" y="311.5" fill="#707070" stroke="#707070" stroke-width="0.22" text-anchor="start" >65</text>
<text x="34.5" y="346.5" fill="#ff0000" stroke="#ff0000" stroke-width="0.22" text-anchor="end" >7.0</text>
<text x="911" y="346.5" fill="#707070" stroke="#707070" stroke-width="0.22" text-anchor="start" >60</text>
<text x="34.5" y="381.5" fill="#ff0000" stroke="#ff0000" stroke-width="0.22" text-anchor="end" >6.0</text>
<text x="911" y="381.5" fill="#707070" stroke="#707070" stroke-width="0.22" text-anchor="start" >55</text>
<text x="34.5" y="416.5" fill="#ff0000" stroke="#ff0000" stroke-width="0.22" text-anchor="end" >5.0</text>
<text x="911" y="416.5" fill="#707070" stroke="#707070" stroke-width="0.22" text-anchor="start" >50</text>
<text x="34.5" y="451.5" fill="#ff0000" stroke="#ff0000" stroke-width="0.22" text-anchor="end" >4.0</text>
<text x="911" y="451.5" fill="#707070" stroke="#707070" stroke-width="0.22" text-anchor="start" >45</text>
<text x="34.5" y="486.5" fill="#ff0000" stroke="#ff0000" stroke-width="0.22" text-anchor="end" >3.0</text>
<text x="911" y="486.5" fill="#707070" stroke="#707070" stroke-width="0.22" text-anchor="start" >40</text>
<text x="34.5" y="521.5" fill="#ff0000" stroke="#ff0000" stroke-width="0.22" text-anchor="end" >2.0</text>
<text x="911" y="521.5" fill="#707070" stroke="#707070" stroke-width="0.22" text-anchor="start" >35</text>
<text x="34.5" y="556.5" fill="#ff0000" stroke="#ff0000" stroke-width="0.22" text-anchor="end" >1.0</text>
<text x="911" y="556.5" fill="#707070" stroke="#707070" stroke-width="0.22" text-anchor="start" >30</text>
<text x="34.5" y="591.5" fill="#ff0000" stroke="#ff0000" stroke-width="0.22" text-anchor="end" >0.0</text>
<text x="911" y="591.5" fill="#707070" stroke="#707070" stroke-width="0.22" text-anchor="start" >25</text>
<text x="34.5" y="626.5" fill="#ff0000" stroke="#ff0000" stroke-width="0.22" text-anchor="end" >-1.0</text>
<text x="911" y="626.5" fill="#707070" stroke="#707070" stroke-width="0.22" text-anchor="start" >20</text>
<text x="34.5" y="661.5" fill="#ff0000" stroke="#ff0000" stroke-width="0.22" text-anchor="end" >-2.0</text>
<text x="911" y="661.5" fill="#707070" stroke="#707070" stroke-width="0.22" text-anchor="start" >15</text>
<text x="34.5" y="696.5" fill="#ff0000" stroke="#ff0000" stroke-width="0.22" text-anchor="end" >-3.0</text>
<text x="911" y="696.5" fill="#707070" stroke="#707070" stroke-width="0.22" text-anchor="start" >10</text>
<text x="34.5" y="731.5" fill="#ff0000" stroke="#ff0000" stroke-width="0.22" text-anchor="end" >-4.0</text>
<text x="911" y="731.5" fill="#707070" stroke="#707070" stroke-width="0.22" text-anchor="start" >5</text>
<text x="34.5" y="766.5" fill="#ff0000" stroke="#ff0000" stroke-width="0.22" text-anchor="end" >-5.0</text>
<text x="911" y="766.5" fill="#707070" stroke="#707070" stroke-width="0.22" text-anchor="start" >0</text>
<text x="71.5" y="66.5" fill="#000" stroke="#000" stroke-width="0.22" text-anchor="end" >1032</text>
<text x="71.5" y="99.5" fill="#000" stroke="#000" stroke-width="0.22" text-anchor="end" >1030</text>
<text x="71.5" y="133.5" fill="#000" stroke="#000" stroke-width="0.22" text-anchor="end" >1028</text>
<text x="71.5" y="166.5" fill="#000" stroke="#000" stroke-width="0.22" text-anchor="end" >1026</text>
<text x="71.5" y="199.5" fill="#000" stroke="#000" stroke-width="0.22" text-anchor="end" >1024</text>
<text x="71.5" y="233.5" fill="#000" stroke="#000" stroke-width="0.22" text-anchor="end" >1022</text>
<text x="71.5" y="266.5" fill="#000" stroke="#000" stroke-width="0.22" text-anchor="end" >1020</text>
<text x="71.5" y="299.5" fill="#000" stroke="#000" stroke-width="0.22" text-anchor="end" >1018</text>
<text x="71.5" y="333.5" fill="#000" stroke="#000" stroke-width="0.22" text-anchor="end" >1016</text>
<text x="71.5" y="366.5" fill="#000" stroke="#000" stroke-width="0.22" text-anchor="end" >1014</text>
<text x="71.5" y="399.5" fill="#000" stroke="#000" stroke-width="0.22" text-anchor="end" >1012</text>
<text x="71.5" y="433.5" fill="#000" stroke="#000" stroke-width="0.22" text-anchor="end" >1010</text>
<text x="71.5" y="466.5" fill="#000" stroke="#000" stroke-width="0.22" text-anchor="end" >1008</text>
<text x="71.5" y="499.5" fill="#000" stroke="#000" stroke-width="0.22" text-anchor="end" >1006</text>
<text x="71.5" y="533.5" fill="#000" stroke="#000" stroke-width="0.22" text-anchor="end" >1004</text>
<text x="71.5" y="566.5" fill="#000" stroke="#000" stroke-width="0.22" text-anchor="end" >1002</text>
<text x="71.5" y="599.5" fill="#000" stroke="#000" stroke-width="0.22" text-anchor="end" >1000</text>
<text x="71.5" y="633.5" fill="#000" stroke="#000" stroke-width="0.22" text-anchor="end" >998</text>
<text x="71.5" y="666.5" fill="#000" stroke="#000" stroke-width="0.22" text-anchor="end" >996</text>
<text x="71.5" y="699.5" fill="#000" stroke="#000" stroke-width="0.22" text-anchor="end" >994</text>
<text x="71.5" y="733.5" fill="#000" stroke="#000" stroke-width="0.22" text-anchor="end" >992</text>
<text x="71.5" y="766.5" fill="#000" stroke="#000" stroke-width="0.22" text-anchor="end" >990</text>
<text x="108.5" y="66.5" fill="#008000" stroke="#008000" stroke-width="0.22" text-anchor="end" >60.0</text>
<text x="108.5" y="89.5" fill="#008000" stroke="#008000" stroke-width="0.22" text-anchor="end" >58.0</text>
<text x="108.5" y="113.5" fill="#008000" stroke="#008000" stroke-width="0.22" text-anchor="end" >56.0</text>
<text x="108.5" y="136.5" fill="#008000" stroke="#008000" stroke-width="0.22" text-anchor="end" >54.0</text>
<text x="108.5" y="159.5" fill="#008000" stroke="#008000" stroke-width="0.22" text-anchor="end" >52.0</text>
<text x="108.5" y="183.5" fill="#008000" stroke="#008000" stroke-width="0.22" text-anchor="end" >50.0</text>
<text x="108.5" y="206.5" fill="#008000" stroke="#008000" stroke-width="0.22" text-anchor="end" >48.0</text>
<text x="108.5" y="229.5" fill="#008000" stroke="#008000" stroke-width="0.22" text-anchor="end" >46.0</text>
<text x="108.5" y="253.5" fill="#008000" stroke="#008000" stroke-width="0.22" text-anchor="end" >44.0</text>
<text x="108.5" y="276.5" fill="#008000" stroke="#008000" stroke-width="0.22" text-anchor="end" >42.0</text>
<text x="108.5" y="299.5" fill="#008000" stroke="#008000" stroke-width="0.22" text-anchor="end" >40.0</text>
<text x="108.5" y="323.5" fill="#008000" stroke="#008000" stroke-width="0.22" text-anchor="end" >38.0</text>
<text x="108.5" y="346.5" fill="#008000" stroke="#008000" stroke-width="0.22" text-anchor="end" >36.0</text>
<text x="108.5" y="369.5" fill="#008000" stroke="#008000" stroke-width="0.22" text-anchor="end" >34.0</text>
<text x="108.5" y="393.5" fill="#008000" stroke="#008000" stroke-width="0.22" text-anchor="end" >32.0</text>
<text x="108.5" y="416.5" fill="#008000" stroke="#008000" stroke-width="0.22" text-anchor="end" >30.0</text>
<text x="108.5" y="439.5" fill="#008000" stroke="#008000" stroke-width="0.22" text-anchor="end" >28.0</text>
<text x="108.5" y="463.5" fill="#008000" stroke="#008000" stroke-width="0.22" text-anchor="end" >26.0</text>
<text x="108.5" y="486.5" fill="#008000" stroke="#008000" stroke-width="0.22" text-anchor="end" >24.0</text>
<text x="108.5" y="509.5" fill="#008000" stroke="#008000" stroke-width="0.22" text-anchor="end" >22.0</text>
<text x="108.5" y="533.5" fill="#008000" stroke="#008000" stroke-width="0.22" text-anchor="end" >20.0</text>
<text x="108.5" y="556.5" fill="#008000" stroke="#008000" stroke-width="0.22" text-anchor="end" >18.0</text>
<text x="108.5" y="579.5" fill="#008000" stroke="#008000" stroke-width="0.22" text-anchor="end" >16.0</text>
<text x="108.5" y="603.5" fill="#008000" stroke="#008000" stroke-width="0.22" text-anchor="end" >14.0</text>
<text x="108.5" y="626.5" fill="#008000" stroke="#008000" stroke-width="0.22" text-anchor="end" >12.0</text>
<text x="108.5" y="649.5" fill="#008000" stroke="#008000" stroke-width="0.22" text-anchor="end" >10.0</text>
<text x="108.5" y="673.5" fill="#008000" stroke="#008000" stroke-width="0.22" text-anchor="end" >8.0</text>
<text x="108.5" y="696.5" fill="#008000" stroke="#008000" stroke-width="0.22" text-anchor="end" >6.0</text>
<text x="108.5" y="719.5" fill="#008000" stroke="#008000" stroke-width="0.22" text-anchor="end" >4.0</text>
<text x="108.5" y="743.5" fill="#008000" stroke="#008000" stroke-width="0.22" text-anchor="end" >2.0</text>
<text x="108.5" y="766.5" fill="#008000" stroke="#008000" stroke-width="0.22" text-anchor="end" >0.0</text>
<text x="948" y="766.5" fill="#0000ff" stroke="#0000ff" stroke-width="0.22" text-anchor="start" >0.0</text>
<text x="948" y="738.5" fill="#0000ff" stroke="#0000ff" stroke-width="0.22" text-anchor="start" >0.2</text>
<text x="948" y="710.5" fill="#0000ff" stroke="#0000ff" stroke-width="0.22" text-anchor="start" >0.4</text>
<text x="948" y="682.5" fill="#0000ff" stroke="#0000ff" stroke-width="0.22" text-anchor="start" >0.6</text>
<text x="948" y="654.5" fill="#0000ff" stroke="#0000ff" stroke-width="0.22" text-anchor="start" >0.8</text>
<text x="948" y="626.5" fill="#0000ff" stroke="#0000ff" stroke-width="0.22" text-anchor="start" >1.0</text>
<text x="948" y="598.5" fill="#0000ff" stroke="#0000ff" stroke-width="0.22" text-anchor="start" >1.2</text>
<text x="948" y="570.5" fill="#0000ff" stroke="#0000ff" stroke-width="0.22" text-anchor="start" >1.4</text>
<text x="948" y="542.5" fill="#0000ff" stroke="#0000ff" stroke-width="0.22" text-anchor="start" >1.6</text>
<text x="948" y="514.5" fill="#0000ff" stroke="#0000ff" stroke-width="0.22" text-anchor="start" >1.8</text>
<text x="948" y="486.5" fill="#0000ff" stroke="#0000ff" stroke-width="0.22" text-anchor="start" >2.0</text>
<text x="948" y="458.5" fill="#0000ff" stroke="#0000ff" stroke-width="0.22" text-anchor="start" >2.2</text>
<text x="948" y="430.5" fill="#0000ff" stroke="#0000ff" stroke-width="0.22" text-anchor="start" >2.4</text>
<text x="948" y="402.5" fill="#0000ff" stroke="#0000ff" stroke-width="0.22" text-anchor="start" >2.6</text>
<text x="948" y="374.5" fill="#0000ff" stroke="#0000ff" stroke-width="0.22" text-anchor="start" >2.8</text>
<text x="948" y="346.5" fill="#0000ff" stroke="#0000ff" stroke-width="0.22" text-anchor="start" >3.0</text>
<text x="948" y="318.5" fill="#0000ff" stroke="#0000ff" stroke-width="0.22" text-anchor="start" >3.2</text>
<text x="948" y="290.5" fill="#0000ff" stroke="#0000ff" stroke-width="0.22" text-anchor="start" >3.4</text>
<text x="948" y="262.5" fill="#0000ff" stroke="#0000ff" stroke-width="0.22" text-anchor="start" >3.6</text>
<text x="948" y="234.5" fill="#0000ff" stroke="#0000ff" stroke-width="0.22" text-anchor="start" >3.8</text>
<text x="948" y="206.5" fill="#0000ff" stroke="#0000ff" stroke-width="0.22" text-anchor="start" >4.0</text>
<text x="948" y="178.5" fill="#0000ff" stroke="#0000ff" stroke-width="0.22" text-anchor="start" >4.2</text>
<text x="948" y="150.5" fill="#0000ff" stroke="#0000ff" stroke-width="0.22" text-anchor="start" >4.4</text>
<text x="948" y="122.5" fill="#0000ff" stroke="#0000ff" stroke-width="0.22" text-anchor="start" >4.6</text>
<text x="948" y="94.5" fill="#0000ff" stroke="#0000ff" stroke-width="0.22" text-anchor="start" >4.8</text>
<text x="985" y="766.5" fill="#d8d800" stroke="#d8d800" stroke-width="0.22" text-anchor="start" >0</text>
<text x="985" y="649.5" fill="#d8d800" stroke="#d8d800" stroke-width="0.22" text-anchor="start" >5</text>
<text x="985" y="533.5" fill="#d8d800" stroke="#d8d800" stroke-width="0.22" text-anchor="start" >10</text>
<text x="985" y="416.5" fill="#d8d800" stroke="#d8d800" stroke-width="0.22" text-anchor="start" >15</text>
<text x="985" y="299.5" fill="#d8d800" stroke="#d8d800" stroke-width="0.22" text-anchor="start" >20</text>
<text x="985" y="183.5" fill="#d8d800" stroke="#d8d800" stroke-width="0.22" text-anchor="start" >25</text>
<text x="985" y="66.5" fill="#d8d800" stroke="#d8d800" stroke-width="0.22" text-anchor="start" >30</text>
<text x="114.5" y="780.4" fill="#000" stroke="#000" stroke-width="0.22" text-anchor="middle" >00:00</text>
<text x="180.5" y="780.4" fill="#000" stroke="#000" stroke-width="0.22" text-anchor="middle" >02:00</text>
<text x="246.5" y="780.4" fill="#000" stroke="#000" stroke-width="0.22" text-anchor="middle" >04:00</text>
<text x="311.5" y="780.4" fill="#000" stroke="#000" stroke-width="0.22" text-anchor="middle" >06:00</text>
<text x="377.5" y="780.4" fill="#000" stroke="#000" stroke-width="0.22" text-anchor="middle" >08:00</text>
<text x="443.5" y="780.4" fill="#000" stroke="#000" stroke-width="0.22" text-anchor="middle" >10:00</text>
<text x="509.5" y="780.4" fill="#000" stroke="#000" stroke-width="0.22" text-anchor="middle" >12:00</text>
<text x="575.5" y="780.4" fill="#000" stroke="#000" stroke-width="0.22" text-anchor="middle" >14:00</text>
<text x="641.5" y="780.4" fill="#000" stroke="#000" stroke-width="0.22" text-anchor="middle" >16:00</text>
<text x="706.5" y="780.4" fill="#000" stroke="#000" stroke-width="0.22" text-anchor="middle" >18:00</text>
<text x="772.5" y="780.4" fill="#000" stroke="#000" stroke-width="0.22" text-anchor="middle" >20:00</text>
<text x="838.5" y="780.4" fill="#000" stroke="#000" stroke-width="0.22" text-anchor="middle" >22:00</text>
<text x="904.5" y="780.4" fill="#000" stroke="#000" stroke-width="0.22" text-anchor="middle" >24:00</text>
<text x="19.5" y="51" fill="#ff0000" stroke="#ff0000" stroke-width="0.22" text-anchor="start" >°C</text>
<text x="48.5" y="51" fill="#000" stroke="#000" stroke-width="0.22" text-anchor="start" >hPa</text>
<text x="79.5" y="51" fill="#008000" stroke="#008000" stroke-width="0.22" text-anchor="start" >km/h</text>
<text x="905" y="51" fill="#707070" stroke="#707070" stroke-width="0.22" text-anchor="start" textLength="7" lengthAdjust="spacingAndGlyphs">%</text>
<text x="941.5" y="51" fill="#0000ff" stroke="#0000ff" stroke-width="0.22" text-anchor="start" style="font-size:10px">l/m²</text>
<text x="978.5" y="51" fill="#d8d800" stroke="#d8d800" stroke-width="0.22" text-anchor="start" style="font-size:10px">min</text>
<text x="514.5" y="21" fill="#000" stroke="#000" stroke-width="0.22" text-anchor="middle" style="font-size:16px">Freitag, 31.10.2008</text>
<text x="1016" y="16" fill="#ff0000" stroke="#ff0000" stroke-width="0.22" text-anchor="end" >www.DessauWetter.de</text>
<rect x="124.5" y="33.5" width="9" height="9" fill="#ff0000" stroke="#000" stroke-width="1" shape-rendering="crispEdges"/>
<text x="138" y="42" fill="#ff0000" stroke="#ff0000" stroke-width="0.22" text-anchor="start" >Temp. 2 m</text>
<rect x="219.5" y="33.5" width="9" height="9" fill="#800000" stroke="#000" stroke-width="1" shape-rendering="crispEdges"/>
<text x="233" y="42" fill="#ff0000" stroke="#ff0000" stroke-width="0.22" text-anchor="start" >Temp. Boden</text>
<rect x="314.5" y="33.5" width="9" height="9" fill="#808080" stroke="#000" stroke-width="1" shape-rendering="crispEdges"/>
<text x="328" y="42" fill="#808080" stroke="#808080" stroke-width="0.22" text-anchor="start" >Luftfeuchte*</text>
<rect x="409.5" y="33.5" width="9" height="9" fill="#000000" stroke="#000" stroke-width="1" shape-rendering="crispEdges"/>
<text x="423" y="42" fill="#000000" stroke="#000000" stroke-width="0.22" text-anchor="start" >Luftdruck*</text>
<rect x="504.5" y="33.5" width="9" height="9" fill="#0000ff" stroke="#000" stroke-width="1" shape-rendering="crispEdges"/>
<text x="518" y="42" fill="#0000ff" stroke="#0000ff" stroke-width="0.22" text-anchor="start" >Regen</text>
<rect x="599.5" y="33.5" width="9" height="9" fill="#008000" stroke="#000" stroke-width="1" shape-rendering="crispEdges"/>
<text x="613" y="42" fill="#008000" stroke="#008000" stroke-width="0.22" text-anchor="start" >Wind</text>
<rect x="694.5" y="33.5" width="9" height="9" fill="#d8d800" stroke="#000" stroke-width="1" shape-rendering="crispEdges"/>
<text x="708" y="42" fill="#d8d800" stroke="#d8d800" stroke-width="0.22" text-anchor="start" >Sonne-Zeit</text>
<rect x="789.5" y="33.5" width="9" height="9" fill="#ff0000" stroke="#000" stroke-width="1" shape-rendering="crispEdges"/>
<text x="803" y="42" fill="#d8d800" stroke="#d8d800" stroke-width="0.22" text-anchor="start" >Regenzeit</text>
<rect x="124.5" y="47.5" width="9" height="9" fill="#00ffff" stroke="#000" stroke-width="1" shape-rendering="crispEdges"/>
<text x="138" y="56" fill="#ff0000" stroke="#ff0000" stroke-width="0.22" text-anchor="start" >Taupunkt*</text>
<rect x="219.5" y="47.5" width="9" height="9" fill="#ff8040" stroke="#000" stroke-width="1" shape-rendering="crispEdges"/>
<text x="233" y="56" fill="#ff0000" stroke="#ff0000" stroke-width="0.22" text-anchor="start" >Windchill</text>
<rect x="314.5" y="47.5" width="9" height="9" fill="#00ff40" stroke="#000" stroke-width="1" shape-rendering="crispEdges"/>
<text x="328" y="56" fill="#008000" stroke="#008000" stroke-width="0.22" text-anchor="start" >Windböen</text>
<text x="10.5" y="791.6" fill="#000" stroke="#000" stroke-width="0.22" text-anchor="start" >09:40</text>
<path d="M40.500 791.500 h8.500 c0 -1.500 -0.500 -3 -1.500 -4 c-1 -1.300 -2 -2 -3 -2 c-1.200 0 -2.200 0.700 -3 2 c-0.700 1 -1 2.500 -1 4z" fill="#ffee00"/>
<text x="313.5" y="791.6" fill="#000" stroke="#000" stroke-width="0.22" text-anchor="start" >07:03</text>
<g stroke="#ffee00" stroke-width="1"><circle cx="347.5" cy="787.5" r="3.2" fill="#ffee00"/><path d="M347.5 782v11M342 787.500h11M343.600 783.600l7.800 7.800M351.400 783.600l-7.800 7.800" fill="none" stroke-dasharray="1.500 7.500 1.500 0"/></g>
<rect x="446" y="782" width="11" height="11" fill="#000080"/><circle cx="448.500" cy="784.500" r="2.300" fill="#fff"/><path d="M453 784l-3 4h2v4h2v-4h2z" fill="#ffee00"/>
<text x="458.5" y="791.6" fill="#000" stroke="#000" stroke-width="0.22" text-anchor="start" >10:13</text>
<text x="631.5" y="791.6" fill="#000" stroke="#000" stroke-width="0.22" text-anchor="start" >16:44</text>
<rect x="662.500" y="785.500" width="5" height="5" fill="none" stroke="#ffee44" stroke-width="1"/>
<rect x="677" y="782" width="11" height="11" fill="#000080"/><circle cx="685.500" cy="790.500" r="2.300" fill="#fff"/><path d="M681 791l-3-4h2v-4h2v4h2z" fill="#ffee00"/>
<text x="689.5" y="791.6" fill="#000" stroke="#000" stroke-width="0.22" text-anchor="start" >17:15</text>
<rect x="0" y="794" width="1024" height="1" fill="#fff4e0"/>
<rect x="1" y="795" width="1023" height="68" fill="#006ada"/>
<rect x="87" y="795" width="1" height="68" fill="#ffeec8" shape-rendering="crispEdges"/>
<rect x="88" y="795" width="1" height="68" fill="#d0a040" shape-rendering="crispEdges"/>
<rect x="204" y="795" width="1" height="68" fill="#ffeec8" shape-rendering="crispEdges"/>
<rect x="205" y="795" width="1" height="68" fill="#d0a040" shape-rendering="crispEdges"/>
<rect x="322" y="795" width="1" height="68" fill="#ffeec8" shape-rendering="crispEdges"/>
<rect x="323" y="795" width="1" height="68" fill="#d0a040" shape-rendering="crispEdges"/>
<rect x="440" y="795" width="1" height="68" fill="#ffeec8" shape-rendering="crispEdges"/>
<rect x="441" y="795" width="1" height="68" fill="#d0a040" shape-rendering="crispEdges"/>
<rect x="558" y="795" width="1" height="68" fill="#ffeec8" shape-rendering="crispEdges"/>
<rect x="559" y="795" width="1" height="68" fill="#d0a040" shape-rendering="crispEdges"/>
<rect x="676" y="795" width="1" height="68" fill="#ffeec8" shape-rendering="crispEdges"/>
<rect x="677" y="795" width="1" height="68" fill="#d0a040" shape-rendering="crispEdges"/>
<rect x="794" y="795" width="1" height="68" fill="#ffeec8" shape-rendering="crispEdges"/>
<rect x="795" y="795" width="1" height="68" fill="#d0a040" shape-rendering="crispEdges"/>
<rect x="912" y="795" width="1" height="68" fill="#ffeec8" shape-rendering="crispEdges"/>
<rect x="913" y="795" width="1" height="68" fill="#d0a040" shape-rendering="crispEdges"/>
<rect x="1022" y="795" width="1" height="68" fill="#ffeec8"/><rect x="1023" y="795" width="1" height="68" fill="#d0a040"/>
<text x="9" y="813" fill="#000" stroke="#000" stroke-width="0.22" text-anchor="start" style="font-weight:bold;font-size:11.8px">Sensor</text>
<text x="9" y="829" fill="#000" stroke="#000" stroke-width="0.22" text-anchor="start" style="font-weight:bold;font-size:11.8px">MinWert</text>
<text x="9" y="845" fill="#000" stroke="#000" stroke-width="0.22" text-anchor="start" style="font-weight:bold;font-size:11.8px">MaxWert</text>
<text x="9" y="861" fill="#000" stroke="#000" stroke-width="0.22" text-anchor="start" style="font-weight:bold;font-size:11.8px">Durchschnitt</text>
<text x="95" y="813" fill="#000" stroke="#000" stroke-width="0.22" text-anchor="start" style="font-weight:bold;font-size:11.8px">Temp. 2 m</text>
<text x="199" y="813" fill="#000" stroke="#000" stroke-width="0.22" text-anchor="end" style="font-weight:bold;font-size:11.8px">°C</text>
<text x="101" y="829" fill="#000" stroke="#000" stroke-width="0.22" text-anchor="start" >06:08</text>
<text x="199" y="829" fill="#000" stroke="#000" stroke-width="0.22" text-anchor="end" >0.9</text>
<text x="101" y="845" fill="#000" stroke="#000" stroke-width="0.22" text-anchor="start" >12:22</text>
<text x="199" y="845" fill="#000" stroke="#000" stroke-width="0.22" text-anchor="end" >10.5</text>
<text x="101" y="861" fill="#000" stroke="#000" stroke-width="0.22" text-anchor="start" >( - 5.14 )</text>
<text x="199" y="861" fill="#000" stroke="#000" stroke-width="0.22" text-anchor="end" >4.76</text>
<text x="212" y="813" fill="#000" stroke="#000" stroke-width="0.22" text-anchor="start" style="font-weight:bold;font-size:11.8px">Windchill</text>
<text x="316" y="813" fill="#000" stroke="#000" stroke-width="0.22" text-anchor="end" style="font-weight:bold;font-size:11.8px">°C</text>
<text x="218" y="829" fill="#000" stroke="#000" stroke-width="0.22" text-anchor="start" >06:08</text>
<text x="316" y="829" fill="#000" stroke="#000" stroke-width="0.22" text-anchor="end" >0.9</text>
<text x="218" y="845" fill="#000" stroke="#000" stroke-width="0.22" text-anchor="start" >12:22</text>
<text x="316" y="845" fill="#000" stroke="#000" stroke-width="0.22" text-anchor="end" >10.5</text>
<text x="316" y="861" fill="#000" stroke="#000" stroke-width="0.22" text-anchor="end" >4.6</text>
<text x="330" y="813" fill="#000" stroke="#000" stroke-width="0.22" text-anchor="start" style="font-weight:bold;font-size:11.8px">Temp. Boden</text>
<text x="434" y="813" fill="#000" stroke="#000" stroke-width="0.22" text-anchor="end" style="font-weight:bold;font-size:11.8px">°C</text>
<text x="336" y="829" fill="#000" stroke="#000" stroke-width="0.22" text-anchor="start" >05:46</text>
<text x="434" y="829" fill="#000" stroke="#000" stroke-width="0.22" text-anchor="end" >0.7</text>
<text x="336" y="845" fill="#000" stroke="#000" stroke-width="0.22" text-anchor="start" >14:00</text>
<text x="434" y="845" fill="#000" stroke="#000" stroke-width="0.22" text-anchor="end" >9.6</text>
<text x="434" y="861" fill="#000" stroke="#000" stroke-width="0.22" text-anchor="end" >4.64</text>
<text x="448" y="813" fill="#000" stroke="#000" stroke-width="0.22" text-anchor="start" style="font-weight:bold;font-size:11.8px">Luftdruck</text>
<text x="552" y="813" fill="#000" stroke="#000" stroke-width="0.22" text-anchor="end" style="font-weight:bold;font-size:11.8px">hPa</text>
<text x="454" y="829" fill="#000" stroke="#000" stroke-width="0.22" text-anchor="start" >01:32</text>
<text x="552" y="829" fill="#000" stroke="#000" stroke-width="0.22" text-anchor="end" >1001.9</text>
<text x="454" y="845" fill="#000" stroke="#000" stroke-width="0.22" text-anchor="start" >19:02</text>
<text x="552" y="845" fill="#000" stroke="#000" stroke-width="0.22" text-anchor="end" >1010.9</text>
<text x="448" y="861" fill="#000" stroke="#000" stroke-width="0.22" text-anchor="start" >^2.0hPa/h</text>
<text x="552" y="861" fill="#000" stroke="#000" stroke-width="0.22" text-anchor="end" >1007.4</text>
<text x="566" y="813" fill="#000" stroke="#000" stroke-width="0.22" text-anchor="start" style="font-weight:bold;font-size:11.8px">Windböen</text>
<text x="670" y="813" fill="#000" stroke="#000" stroke-width="0.22" text-anchor="end" style="font-weight:bold;font-size:11.8px">km/h</text>
<text x="566" y="829" fill="#000" stroke="#000" stroke-width="0.22" text-anchor="start" >Ø 10 min.</text>
<text x="670" y="829" fill="#000" stroke="#000" stroke-width="0.22" text-anchor="end" >4.5</text>
<text x="572" y="845" fill="#000" stroke="#000" stroke-width="0.22" text-anchor="start" >14:54</text>
<text x="670" y="845" fill="#000" stroke="#000" stroke-width="0.22" text-anchor="end" >O-NO 13.4</text>
<text x="572" y="861" fill="#000" stroke="#000" stroke-width="0.22" text-anchor="start" >2.4 km</text>
<text x="670" y="861" fill="#000" stroke="#000" stroke-width="0.22" text-anchor="end" >2.4</text>
<text x="684" y="813" fill="#000" stroke="#000" stroke-width="0.22" text-anchor="start" style="font-weight:bold;font-size:11.8px">Regen</text>
<text x="788" y="813" fill="#000" stroke="#000" stroke-width="0.22" text-anchor="end" style="font-weight:bold;font-size:11.8px">l/m²</text>
<text x="684" y="829" fill="#000" stroke="#000" stroke-width="0.22" text-anchor="start" >0 min.</text>
<text x="690" y="845" fill="#000" stroke="#000" stroke-width="0.22" text-anchor="start" >23:58</text>
<text x="788" y="845" fill="#000" stroke="#000" stroke-width="0.22" text-anchor="end" >0.0</text>
<text x="684" y="861" fill="#000" stroke="#000" stroke-width="0.22" text-anchor="start" >Gesamt:</text>
<text x="788" y="861" fill="#000" stroke="#000" stroke-width="0.22" text-anchor="end" >0.0</text>
<text x="802" y="813" fill="#000" stroke="#000" stroke-width="0.22" text-anchor="start" style="font-weight:bold;font-size:11.8px">Sonne-Zeit</text>
<text x="906" y="813" fill="#000" stroke="#000" stroke-width="0.22" text-anchor="end" style="font-weight:bold;font-size:11.8px">min</text>
<text x="808" y="845" fill="#000" stroke="#000" stroke-width="0.22" text-anchor="start" >14:54</text>
<text x="906" y="845" fill="#000" stroke="#000" stroke-width="0.22" text-anchor="end" >2</text>
<text x="802" y="861" fill="#000" stroke="#000" stroke-width="0.22" text-anchor="start" >2:18 h</text>
<text x="906" y="861" fill="#000" stroke="#000" stroke-width="0.22" text-anchor="end" >0.2</text>
<text x="920" y="813" fill="#000" stroke="#000" stroke-width="0.22" text-anchor="start" >Wolkenunterg</text>
<text x="1022" y="813" fill="#000" stroke="#000" stroke-width="0.22" text-anchor="end" >112m</text>
<text x="920" y="829" fill="#000" stroke="#000" stroke-width="0.22" text-anchor="start" >Sichtweite</text>
<text x="1022" y="829" fill="#000" stroke="#000" stroke-width="0.22" text-anchor="end" >5-10km</text>
<text x="920" y="845" fill="#000" stroke="#000" stroke-width="0.22" text-anchor="start" >Regen/Tag</text>
<text x="1022" y="845" fill="#000" stroke="#000" stroke-width="0.22" text-anchor="end" >0.0l/m²</text>
<text x="920" y="861" fill="#000" stroke="#000" stroke-width="0.22" text-anchor="start" >Neumond</text>
<text x="1022" y="861" fill="#000" stroke="#000" stroke-width="0.22" text-anchor="end" >27.11.08</text>
</svg>
</body></html>
